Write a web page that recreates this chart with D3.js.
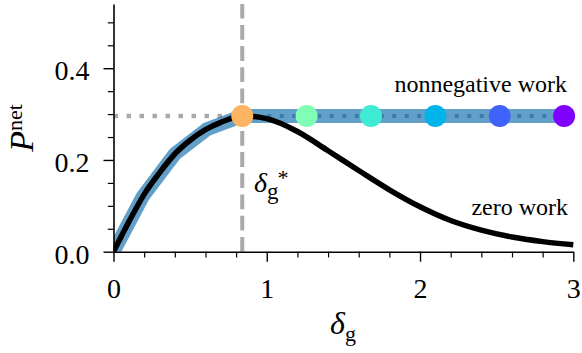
<!DOCTYPE html>
<html>
<head>
<meta charset="utf-8">
<script src="https://cdn.jsdelivr.net/npm/d3@7"></script>
<style>
  html, body { margin: 0; padding: 0; background: #fff; }
  svg { display: block; }
</style>
</head>
<body>
<svg id="chart" width="582" height="353"></svg>
<script>
// ---- data ----
const zeroWorkDelta = [0, 0.1, 0.2, 0.3, 0.4, 0.5, 0.6, 0.7, 0.84, 1.0, 1.2, 1.4, 1.6, 1.8, 2.0, 2.2, 2.4, 2.6, 2.8, 3.0];
const zeroWorkP     = [0, 0.065, 0.125, 0.172, 0.213, 0.243, 0.266, 0.282, 0.296, 0.29, 0.262, 0.22, 0.177, 0.135, 0.098, 0.068, 0.047, 0.032, 0.022, 0.015];
const nonnegDelta   = [0, 0.19, 0.4, 0.61, 0.84, 3.0];
const nonnegP       = [0, 0.12, 0.213, 0.267, 0.296, 0.296];
const deltaStar     = 0.84;
const pStar         = 0.296;
const markerDelta   = [0.84, 1.26, 1.68, 2.10, 2.52, 2.94];
const markerColors  = ["#ffb462", "#80ffb4", "#40ebd4", "#00b4eb", "#4062fa", "#8000ff"];
const xTicks        = [0, 1, 2, 3];
const yTicks        = [0, 0.2, 0.4];

const FONT = "'Liberation Serif', Tinos, 'DejaVu Serif', 'Noto Serif', serif";

const svg = d3.select("#chart");
const x = d3.scaleLinear().domain([0, 3]).range([113.5, 573.3]);
const y = d3.scaleLinear().domain([0, 0.54]).range([251.7, 4]);

// clip to the axes area (like matplotlib)
svg.append("defs").append("clipPath").attr("id", "plotclip")
  .append("rect")
  .attr("x", x(0)).attr("y", y(0.54))
  .attr("width", x(3) - x(0) + 1).attr("height", y(0) - y(0.54));
const plot = svg.append("g").attr("clip-path", "url(#plotclip)");

// reference lines
plot.append("line")
  .attr("x1", x(0)).attr("x2", x(deltaStar))
  .attr("y1", y(pStar)).attr("y2", y(pStar))
  .attr("stroke", "#aaaaaa").attr("stroke-width", 4.5)
  .attr("stroke-dasharray", "4.5,8.5");
plot.append("line")
  .attr("x1", x(deltaStar)).attr("x2", x(deltaStar))
  .attr("y1", y(0)).attr("y2", y(0.54))
  .attr("stroke", "#aaaaaa").attr("stroke-width", 4)
  .attr("stroke-dasharray", "14.8,6.4");

const line = d3.line().x(d => x(d[0])).y(d => y(d[1]));

// nonnegative work (thick blue band)
const nonneg = nonnegDelta.map((d, i) => [d, nonnegP[i]]);
plot.append("path")
  .attr("d", line(nonneg))
  .attr("fill", "none").attr("stroke", "#1f77b4").attr("stroke-opacity", 0.7)
  .attr("stroke-width", 14).attr("stroke-linejoin", "miter");

// dotted blue along the plateau
plot.append("line")
  .attr("x1", x(deltaStar)).attr("x2", x(3))
  .attr("y1", y(pStar)).attr("y2", y(pStar))
  .attr("stroke", "#3a7cb0").attr("stroke-width", 4)
  .attr("stroke-dasharray", "4,8.5");

// zero work (black curve)
const zero = zeroWorkDelta.map((d, i) => [d, zeroWorkP[i]]);
plot.append("path")
  .attr("d", d3.line().x(d => x(d[0])).y(d => y(d[1])).curve(d3.curveMonotoneX)(zero))
  .attr("fill", "none").attr("stroke", "#000").attr("stroke-width", 5.5);

// markers (not clipped, as in the reference)
svg.selectAll("circle.m").data(markerDelta).enter().append("circle")
  .attr("class", "m")
  .attr("cx", d => x(d)).attr("cy", y(pStar)).attr("r", 11)
  .attr("fill", (d, i) => markerColors[i]);

// axes
const xMajor = svg.append("g").attr("transform", `translate(0,${y(0)})`)
  .call(d3.axisBottom(x).tickValues(xTicks).tickFormat(d3.format("d")).tickSize(10).tickSizeOuter(0));
xMajor.attr("font-family", FONT).attr("font-size", 28);
xMajor.select(".domain").attr("stroke-width", 1.6);
xMajor.selectAll(".tick line").attr("stroke-width", 1.4);
xMajor.selectAll(".tick text").attr("y", 46.5).attr("dy", 0)
  .attr("font-family", FONT).attr("font-size", 28);

const xMinor = svg.append("g").attr("transform", `translate(0,${y(0)})`)
  .call(d3.axisBottom(x).tickValues(d3.range(0, 3.01, 0.2).filter(v => Math.abs(v - Math.round(v)) > 1e-6)).tickSize(5.7).tickFormat(""));
xMinor.select(".domain").remove();
xMinor.selectAll(".tick line").attr("stroke-width", 1.2);

const yMajor = svg.append("g").attr("transform", `translate(${x(0)},0)`)
  .call(d3.axisLeft(y).tickValues(yTicks).tickFormat(d3.format(".1f")).tickSize(10).tickSizeOuter(0).tickPadding(14));
yMajor.attr("font-family", FONT).attr("font-size", 28);
yMajor.select(".domain").attr("stroke-width", 1.6);
yMajor.selectAll(".tick line").attr("stroke-width", 1.4);
yMajor.selectAll(".tick text").attr("dy", 11.5)
  .attr("font-family", FONT).attr("font-size", 28);

const yMinor = svg.append("g").attr("transform", `translate(${x(0)},0)`)
  .call(d3.axisLeft(y).tickValues(d3.range(0.05, 0.51, 0.05).filter(v => Math.abs(v * 5 - Math.round(v * 5)) > 1e-6)).tickSize(5.7).tickFormat(""));
yMinor.select(".domain").remove();
yMinor.selectAll(".tick line").attr("stroke-width", 1.2);

// axis labels
const xl = svg.append("text").attr("x", 343).attr("y", 334).attr("text-anchor", "middle")
  .attr("font-family", FONT);
xl.append("tspan").text("δ").attr("font-style", "italic").attr("font-size", 32);
xl.append("tspan").text("g").attr("dy", 7).attr("font-size", 22);

const yl = svg.append("text").attr("transform", "translate(33,128) rotate(-90)").attr("text-anchor", "middle")
  .attr("font-family", FONT);
yl.append("tspan").text("P").attr("font-style", "italic").attr("font-size", 34);
yl.append("tspan").text("net").attr("dy", -11).attr("font-size", 22);

// annotations
svg.append("text").attr("x", 567).attr("y", 92).attr("text-anchor", "end")
  .attr("font-family", FONT).attr("font-size", 24).text("nonnegative work");
svg.append("text").attr("x", 568).attr("y", 215).attr("text-anchor", "end")
  .attr("font-family", FONT).attr("font-size", 24).text("zero work");

const ds = svg.append("text").attr("x", 254).attr("y", 192).attr("font-family", FONT);
ds.append("tspan").text("δ").attr("font-style", "italic").attr("font-size", 28);
ds.append("tspan").text("g").attr("dy", 7).attr("font-size", 23);
ds.append("tspan").text("*").attr("dx", -1).attr("dy", -14).attr("font-size", 22);
</script>
</body>
</html>
